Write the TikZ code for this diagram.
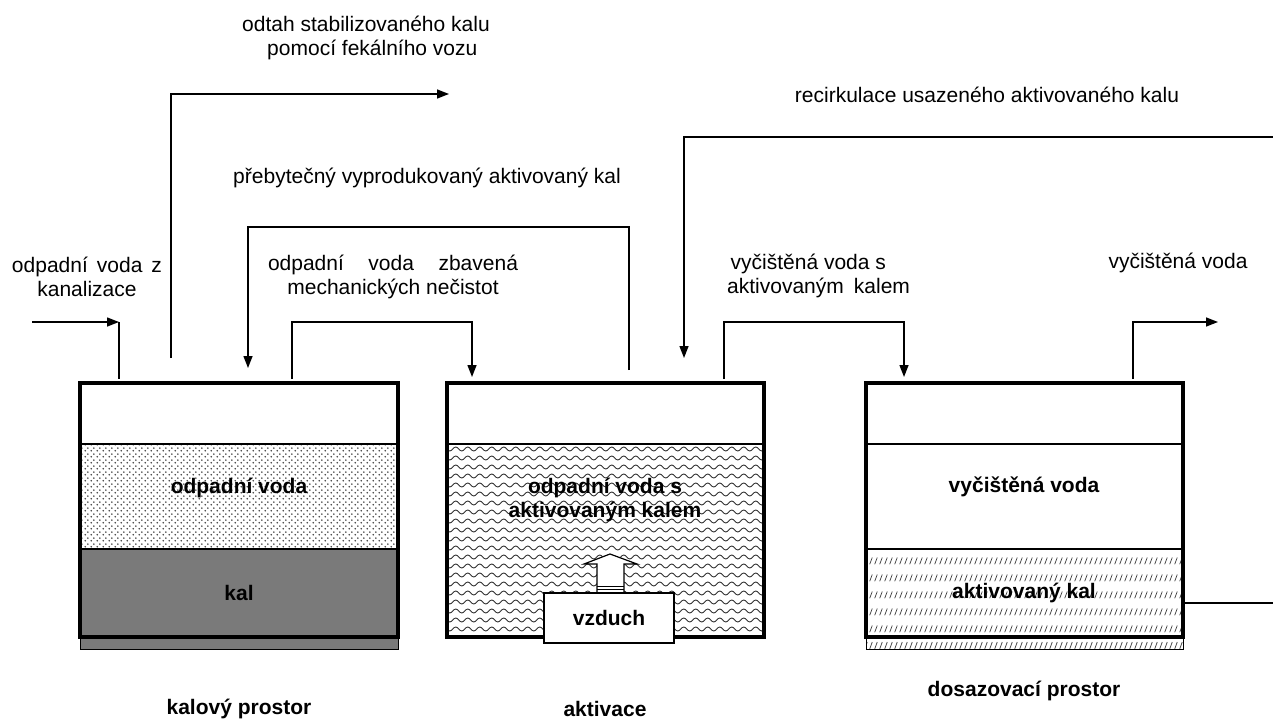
\documentclass[tikz,border=0pt]{standalone}
\usepackage{fontspec}
\setmainfont{Liberation Sans}
\usetikzlibrary{arrows.meta,patterns.meta,decorations.pathmorphing}

\tikzdeclarepattern{name=sparsedots, type=uncolored,
  bounding box={(0pt,0pt) and (6pt,6pt)}, tile size={(6pt,6pt)},
  code={\fill (1.5pt,1.5pt) circle (1pt); \fill (4.5pt,4.5pt) circle (1pt);}}
\tikzdeclarepattern{name=slashrows, type=uncolored,
  bounding box={(0pt,0pt) and (4.5pt,17pt)}, tile size={(4.5pt,17pt)},
  code={\draw[line width=0.8pt] (0.8pt,5pt) -- (3.6pt,12pt);}}

\tikzset{
  txt/.style={font=\fontsize{21}{24}\selectfont, inner sep=0pt},
  btxt/.style={font=\fontsize{21}{24}\selectfont\bfseries, inner sep=0pt},
  tankwall/.style={line width=4pt},
  layer/.style={line width=1.6pt},
  pipe/.style={line width=1.4pt},
  flow/.style={pipe, -{Triangle[length=12pt, width=9pt]}},
  wave/.style={black!80, line width=0.9pt, decorate,
    decoration={snake, segment length=12pt, amplitude=2pt}}
}

\begin{document}
\begin{tikzpicture}[x=1pt, y=-1pt]
    \useasboundingbox (0,0) rectangle (1273,722);

    % kalovy prostor
    \fill[pattern=sparsedots, pattern color=black!75] (80,444) rectangle (398,549);
    \fill[black!52] (80,549) rectangle (398,637);
    \filldraw[fill=black!52, draw=black, line width=1pt] (80,637) rectangle (398,649);
    \draw[layer] (80,444) -- (398,444) (80,549) -- (398,549);
    \draw[tankwall] (80,383) rectangle (398,637);

    % aktivace
    \begin{scope}
        \clip (447,444) rectangle (764,637);
        \foreach \y in {449,458,...,640}
            \draw[wave] (440,\y) -- (770,\y);
    \end{scope}
    \draw[layer] (447,444) -- (764,444);
    \draw[tankwall] (447,383) rectangle (764,637);
    \filldraw[fill=white, line width=1.2pt] (610,554) -- (637,564) -- (624,564) 
    -- (624,593) -- (597,593) -- (597,564) -- (584,564) -- cycle;
    \draw[line width=1pt] (597,586) -- (624,586) (597,589) -- (624,589);
    \node[btxt, draw, fill=white, line width=1.6pt, minimum width=130, 
    minimum height=50] (vzduch) at (609,618) {vzduch};

    % dosazovaci prostor
    \fill[pattern=slashrows, pattern color=black!75] (866,549) rectangle (1183,637);
    \filldraw[pattern=slashrows, pattern color=black!75, draw=black, line width=1pt] 
    (866,637) rectangle (1183,649);
    \draw[layer] (866,444) -- (1183,444) (866,549) -- (1183,549);
    \draw[tankwall] (866,383) rectangle (1183,637);

    % connection points
    \coordinate (inlet) at (32,322);
    \coordinate (inbend) at (119,322);
    \coordinate (t1in) at (119,379);
    \coordinate (t1sludge) at (171,358);
    \coordinate (odtahend) at (449,94);
    \coordinate (t2excess) at (629,370);
    \coordinate (t1back) at (248,368);
    \coordinate (t1out) at (292,379);
    \coordinate (t2in) at (472,377);
    \coordinate (recircin) at (1273,137);
    \coordinate (t2recirc) at (684,358);
    \coordinate (t2out) at (724,379);
    \coordinate (t3in) at (904,377);
    \coordinate (t3out) at (1133,379);
    \coordinate (outlet) at (1218,322);
    \coordinate (t3sludge) at (1183,603);
    \coordinate (returnend) at (1273,603);

    \draw[flow] (inlet) -- (inbend);
    \draw[pipe] (inbend) -- (t1in);
    \draw[flow] (t1sludge) |- (odtahend);
    \draw[flow] (t2excess) -- ++(0,-143) -| (t1back);
    \draw[flow] (t1out) -- ++(0,-57) -| (t2in);
    \draw[flow] (recircin) -| (t2recirc);
    \draw[flow] (t2out) -- ++(0,-57) -| (t3in);
    \draw[flow] (t3out) |- (outlet);
    \draw[pipe] (t3sludge) -- (returnend);

    % popisky
    \node[txt, align=center] (inlettext) at (87,277) 
    {\makebox[150pt][s]{odpadní voda z}\\kanalizace};
    \node[txt, align=center] (odtahtext) at (366,38) 
    {odtah stabilizovaného kalu\\\hspace{0.6em}pomocí fekálního vozu};
    \node[txt] (excesstext) at (427,178) {přebytečný vyprodukovaný aktivovaný kal};
    \node[txt, align=center] (mechtext) at (393,277) 
    {\makebox[250pt][s]{odpadní voda zbavená}\\mechanických nečistot};
    \node[txt] (recirctext) at (987,95) {recirkulace usazeného aktivovaného kalu};
    \node[txt, align=left, anchor=west] (t2outtext) at (727,276) 
    {\,vyčištěná voda s\\aktivovaným\hspace{0.2em} kalem};
    \node[txt] (outlettext) at (1178,263) {vyčištěná voda};

    \node[btxt] (t1water) at (239,488) {odpadní voda};
    \node[btxt] (t1sludgetext) at (239,593) {kal};
    \node[btxt, align=center] (t2water) at (605,500) 
    {odpadní voda s\\aktivovaným kalem};
    \node[btxt] (t3water) at (1024,487) {vyčištěná voda};
    \node[btxt] (t3sludgetext) at (1024,593) {aktivovaný kal};
    \node[btxt] (kalovy) at (239,709) {kalový prostor};
    \node[btxt] (aktivace) at (605,709) {aktivace};
    \node[btxt] (dosazovaci) at (1024,691) {dosazovací prostor};
\end{tikzpicture}
\end{document}
